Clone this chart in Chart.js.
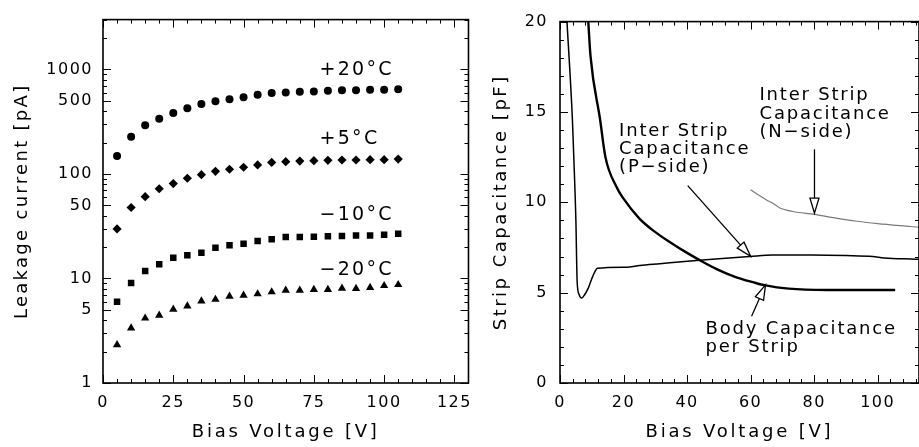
<!DOCTYPE html>
<html>
<head>
<meta charset="utf-8">
<script src="https://cdn.jsdelivr.net/npm/chart.js@4.4.0/dist/chart.umd.min.js"></script>
<style>
html, body { margin: 0; padding: 0; background: #fff; }
#wrap { position: relative; width: 919px; height: 447px; overflow: hidden; }
.panel { position: absolute; top: 0; height: 447px; }
#left { left: 0; width: 480px; }
#right { left: 480px; width: 439px; }
</style>
</head>
<body>
<div id="wrap">
  <div class="panel" id="left"><canvas id="leakChart"></canvas></div>
  <div class="panel" id="right"><canvas id="capChart"></canvas></div>
</div>
<script>
// ---- left panel: leakage current vs bias voltage ----
const biasVoltage = [5, 10, 15, 20, 25, 30, 35, 40, 45, 50, 55, 60, 65, 70, 75, 80, 85, 90, 95, 100, 105];
const leakP20 = [149, 227, 292, 337, 384, 426, 468, 496, 518, 541, 573, 594, 603, 611, 617, 626, 631, 633, 638, 640, 645];
const leakP5 = [29.8, 47.8, 60.7, 72.2, 81, 91, 98.5, 106, 111, 116, 122, 129, 131, 133, 134, 135, 136, 136, 137, 137, 139];
const leakM10 = [5.98, 9.03, 11.8, 13.7, 15.8, 16.7, 17.6, 19.7, 20.8, 21.5, 22.8, 23.7, 24.9, 24.9, 25.1, 25.3, 25.5, 25.8, 25.8, 26.2, 26.8];
const leakM20 = [2.32, 3.35, 4.17, 4.45, 5.07, 5.44, 6.07, 6.30, 6.76, 6.91, 7.11, 7.43, 7.71, 7.71, 7.82, 7.82, 8.05, 8.0, 8.2, 8.53, 8.72];
const leakXTicks = [0, 25, 50, 75, 100, 125];
const leakYTicks = [1, 5, 10, 50, 100, 500, 1000];

// ---- right panel: strip capacitance vs bias voltage ----
const bodyV = [8.9, 9.6, 12.6, 14.3, 17.8, 20, 25, 30, 35, 40, 45, 50, 55.5, 60.7, 64.7, 72, 84, 105.5];
const bodyC = [20, 18.1, 14.6, 12.5, 10.85, 10.2, 9.1, 8.35, 7.75, 7.2, 6.7, 6.25, 5.85, 5.58, 5.4, 5.22, 5.15, 5.15];
const pSideV = [2.2, 3.9, 4.3, 5.0, 5.4, 6.0, 6.8, 7.8, 8.9, 10.3, 11.8, 20.9, 25.1, 31.4, 42.9, 50, 59.7, 67, 79.5, 90, 98.4, 102, 110.4, 113];
const pSideC = [20, 14.6, 12.7, 9.0, 5.6, 4.9, 4.7, 4.9, 5.25, 5.9, 6.35, 6.41, 6.5, 6.6, 6.78, 6.88, 7.0, 7.08, 7.08, 7.05, 7.0, 6.92, 6.86, 6.85];
const nSideV = [60, 62.5, 65, 67, 69.1, 73.3, 80.1, 86, 93.5, 100, 110.4, 113];
const nSideC = [10.7, 10.4, 10.13, 9.95, 9.7, 9.49, 9.33, 9.15, 8.95, 8.82, 8.66, 8.62];
const capXTicks = [0, 20, 40, 60, 80, 100];
const capYTicks = [0, 5, 10, 15, 20];

const FONT = 'DejaVu Sans';

function pts(xs, ys) {
    return xs.map((x, i) => ({ x: x, y: ys[i] }));
}

function range(from, to, step) {
    const out = [];
    for (let v = from; v <= to + 1e-9; v += step) out.push(v);
    return out;
}

function logMinors(lo, hi) {
    const out = [];
    for (let d = lo; d < hi; d *= 10) {
        for (let k = 1; k < 10; k++) if (d * k <= hi) out.push(d * k);
    }
    return out;
}

// wider letter spacing like the original lettering; axis titles a bit wider still
const spacing = {
    id: 'spacing',
    beforeDraw(chart, args, opts) {
        chart.ctx.letterSpacing = '1.5px';
        Object.values(chart.scales).forEach(s => {
            if (s._wideTitle) return;
            const orig = s.drawTitle;
            s.drawTitle = function () {
                const prev = this.ctx.letterSpacing;
                this.ctx.letterSpacing = s.axis === 'x' ? '2.8px' : (opts.yTitle || '2.3px');
                orig.apply(this, arguments);
                this.ctx.letterSpacing = prev;
            };
            s._wideTitle = true;
        });
    }
};

// box around the plot with ticks pointing inward on all four sides
const frame = {
    id: 'frame',
    afterDraw(chart, args, opts) {
        const { ctx, chartArea: a, scales: { x, y } } = chart;
        ctx.save();
        ctx.strokeStyle = '#000';
        ctx.lineWidth = 1;
        const tick = (vals, len, horiz) => {
            vals.forEach(v => {
                ctx.beginPath();
                if (horiz) {
                    const px = Math.round(x.getPixelForValue(v)) + 0.5;
                    ctx.moveTo(px, a.bottom); ctx.lineTo(px, a.bottom - len);
                    ctx.moveTo(px, a.top); ctx.lineTo(px, a.top + len);
                } else {
                    const py = Math.round(y.getPixelForValue(v)) + 0.5;
                    ctx.moveTo(a.left, py); ctx.lineTo(a.left + len, py);
                    ctx.moveTo(a.right, py); ctx.lineTo(a.right - len, py);
                }
                ctx.stroke();
            });
        };
        tick(opts.xMinor, 4, true);
        tick(opts.xMajor, 8, true);
        tick(opts.yMinor, 4, false);
        tick(opts.yMajor, 8, false);
        ctx.lineWidth = 1.6;
        ctx.strokeRect(a.left, a.top, a.right - a.left, a.bottom - a.top);
        ctx.restore();
    }
};

// text labels and open-headed arrows placed in data coordinates
const notes = {
    id: 'notes',
    afterDraw(chart, args, opts) {
        const { ctx, scales: { x, y } } = chart;
        ctx.save();
        ctx.fillStyle = '#000';
        ctx.strokeStyle = '#000';
        ctx.letterSpacing = opts.spacing || '1.5px';
        ctx.font = opts.size + 'px "' + FONT + '"';
        ctx.textAlign = 'left';
        ctx.textBaseline = 'middle';
        (opts.texts || []).forEach(t => {
            const px = x.getPixelForValue(t.x);
            t.lines.forEach((line, i) => {
                const py = y.getPixelForValue(t.y) + i * opts.lineGap - 2;
                ctx.fillText(line, px, py);
            });
        });
        (opts.arrows || []).forEach(ar => {
            const x0 = x.getPixelForValue(ar.from[0]), y0 = y.getPixelForValue(ar.from[1]);
            const x1 = x.getPixelForValue(ar.to[0]), y1 = y.getPixelForValue(ar.to[1]);
            const ang = Math.atan2(y1 - y0, x1 - x0);
            const hl = 15, hw = 4.5;
            const bx = x1 - hl * Math.cos(ang), by = y1 - hl * Math.sin(ang);
            ctx.lineWidth = 1.3;
            ctx.beginPath();
            ctx.moveTo(x0, y0);
            ctx.lineTo(bx, by);
            ctx.stroke();
            ctx.beginPath();
            ctx.moveTo(x1, y1);
            ctx.lineTo(bx + hw * Math.sin(ang), by - hw * Math.cos(ang));
            ctx.lineTo(bx - hw * Math.sin(ang), by + hw * Math.cos(ang));
            ctx.closePath();
            ctx.fillStyle = '#fff';
            ctx.fill();
            ctx.stroke();
        });
        ctx.restore();
    }
};

const tickFont = { family: FONT, size: 16 };
const titleFont = { family: FONT, size: 18 };

function marker(label, data, style, r) {
    return {
        label: label,
        data: data,
        pointStyle: style,
        pointRadius: r,
        backgroundColor: '#000',
        borderColor: '#000',
        borderWidth: 0
    };
}

new Chart(document.getElementById('leakChart'), {
    type: 'scatter',
    data: {
        datasets: [
            marker('+20°C', pts(biasVoltage, leakP20), 'circle', 4),
            marker('+5°C', pts(biasVoltage, leakP5), 'rectRot', 4.6),
            marker('−10°C', pts(biasVoltage, leakM10), 'rect', 4.6),
            marker('−20°C', pts(biasVoltage, leakM20), 'triangle', 4.8)
        ]
    },
    options: {
        responsive: true,
        maintainAspectRatio: false,
        animation: false,
        layout: { padding: { top: 14, right: 8, left: 0, bottom: 0 } },
        plugins: {
            legend: { display: false },
            tooltip: { enabled: false },
            spacing: { yTitle: '2.3px' },
            frame: {
                xMinor: range(0, 130, 5),
                xMajor: leakXTicks,
                yMinor: logMinors(1, 3000),
                yMajor: leakYTicks
            },
            notes: {
                size: 19,
                lineGap: 0,
                spacing: '2.3px',
                texts: [
                    { x: 77, y: 940, lines: ['+20°C'] },
                    { x: 77, y: 205, lines: ['+5°C'] },
                    { x: 77, y: 38.5, lines: ['−10°C'] },
                    { x: 77, y: 11.4, lines: ['−20°C'] }
                ]
            }
        },
        scales: {
            x: {
                type: 'linear',
                min: 0,
                max: 130,
                afterBuildTicks: s => { s.ticks = leakXTicks.map(v => ({ value: v })); },
                afterFit: s => { s.height = 64; },
                grid: { display: false, drawTicks: false },
                border: { display: false },
                ticks: { color: '#000', font: tickFont, padding: 10, maxRotation: 0, autoSkip: false },
                title: { display: true, text: 'Bias Voltage [V]', color: '#000', font: titleFont, padding: { top: 0, bottom: 4 } }
            },
            y: {
                type: 'logarithmic',
                min: 1,
                max: 3000,
                afterBuildTicks: s => { s.ticks = leakYTicks.map(v => ({ value: v })); },
                afterFit: s => { s.width = 103; },
                grid: { display: false, drawTicks: false },
                border: { display: false },
                ticks: { color: '#000', font: tickFont, padding: 10, autoSkip: false, callback: v => String(v) },
                title: { display: true, text: 'Leakage current [pA]', color: '#000', font: titleFont, padding: { top: 12, bottom: 0 } }
            }
        }
    },
    plugins: [spacing, frame, notes]
});

function curve(label, data, color, width) {
    return {
        label: label,
        data: data,
        borderColor: color,
        borderWidth: width,
        pointRadius: 0,
        showLine: true,
        fill: false,
        cubicInterpolationMode: 'monotone'
    };
}

new Chart(document.getElementById('capChart'), {
    type: 'scatter',
    data: {
        datasets: [
            curve('Body Capacitance per Strip', pts(bodyV, bodyC), '#000', 2.4),
            curve('Inter Strip Capacitance (P-side)', pts(pSideV, pSideC), '#000', 1.5),
            curve('Inter Strip Capacitance (N-side)', pts(nSideV, nSideC), '#7a7a7a', 1.2)
        ]
    },
    options: {
        responsive: true,
        maintainAspectRatio: false,
        animation: false,
        layout: { padding: { top: 15, right: 0, left: 0, bottom: 0 } },
        plugins: {
            legend: { display: false },
            tooltip: { enabled: false },
            spacing: { yTitle: '2.5px' },
            frame: {
                xMinor: range(0, 112, 4),
                xMajor: capXTicks,
                yMinor: range(0, 20, 1),
                yMajor: capYTicks
            },
            notes: {
                size: 18,
                lineGap: 18.4,
                spacing: '1.8px',
                texts: [
                    { x: 62.8, y: 15.8, lines: ['Inter Strip', 'Capacitance', '(N−side)'] },
                    { x: 18.6, y: 13.84, lines: ['Inter Strip', 'Capacitance', '(P−side)'] },
                    { x: 45.8, y: 2.88, lines: ['Body Capacitance', 'per Strip'] }
                ],
                arrows: [
                    { from: [80.1, 12.93], to: [80.1, 9.4] },
                    { from: [40.2, 10.92], to: [60, 7.01] },
                    { from: [60.3, 3.7], to: [64.7, 5.43] }
                ]
            }
        },
        scales: {
            x: {
                type: 'linear',
                min: 0,
                max: 113,
                afterBuildTicks: s => { s.ticks = capXTicks.map(v => ({ value: v })); },
                afterFit: s => { s.height = 64; },
                grid: { display: false, drawTicks: false },
                border: { display: false },
                ticks: { color: '#000', font: tickFont, padding: 10, maxRotation: 0, autoSkip: false },
                title: { display: true, text: 'Bias Voltage [V]', color: '#000', font: titleFont, padding: { top: 0, bottom: 4 } }
            },
            y: {
                type: 'linear',
                min: 0,
                max: 20,
                afterBuildTicks: s => { s.ticks = capYTicks.map(v => ({ value: v })); },
                afterFit: s => { s.width = 80; },
                grid: { display: false, drawTicks: false },
                border: { display: false },
                ticks: { color: '#000', font: tickFont, padding: 12, autoSkip: false },
                title: { display: true, text: 'Strip Capacitance [pF]', color: '#000', font: titleFont, padding: { top: 11, bottom: 0 } }
            }
        }
    },
    plugins: [spacing, frame, notes]
});
</script>
</body>
</html>
